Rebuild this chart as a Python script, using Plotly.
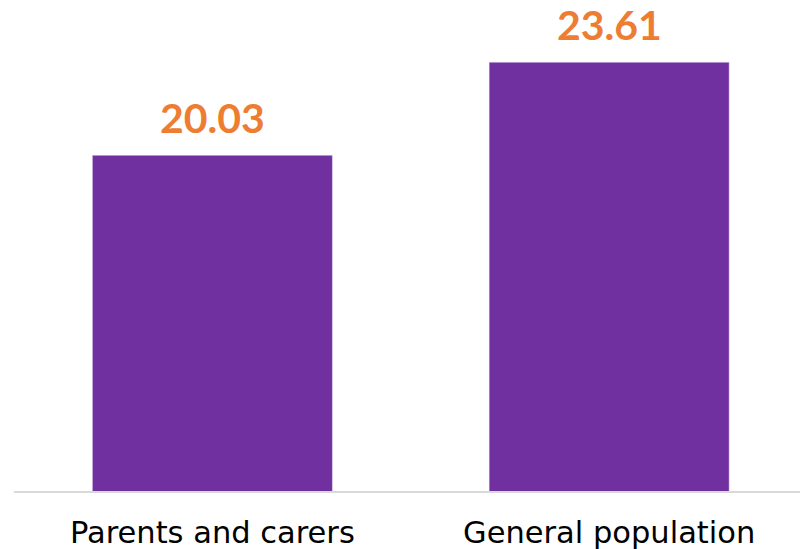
import plotly.graph_objects as go

categories = ["Parents and carers", "General population"]
values = [20.03, 23.61]
value_labels = ["20.03", "23.61"]

BAR = "#7030A0"
LABEL = "#ED7D31"
LABEL_FONT = "Lato, 'Noto Sans', sans-serif"
TICK_FONT = "'DejaVu Sans', sans-serif"

fig = go.Figure(go.Bar(x=categories, y=values, marker_color=BAR, width=0.605))

for c, v, t in zip(categories, values, value_labels):
    fig.add_annotation(x=c, y=v, text="<b>" + t + "</b>", showarrow=False,
                       yanchor="bottom", yshift=11,
                       font=dict(size=41, color=LABEL, family=LABEL_FONT))

fig.update_layout(
    width=800, height=549,
    margin=dict(l=13.5, r=0, t=0, b=57.5),
    plot_bgcolor="white", paper_bgcolor="white",
    showlegend=False,
    xaxis=dict(range=[-0.5, 1.481], showline=True, linecolor="#D9D9D9", linewidth=1.5,
               tickfont=dict(size=30.5, color="#000000", family=TICK_FONT),
               ticks="", ticklabelstandoff=14, showgrid=False),
    yaxis=dict(range=[7.12, 26.0], visible=False, showgrid=False, zeroline=False),
)

fig.write_html("out.html", config={"displayModeBar": False},
               post_script="document.body.style.margin='0';document.body.style.overflow='hidden';")
